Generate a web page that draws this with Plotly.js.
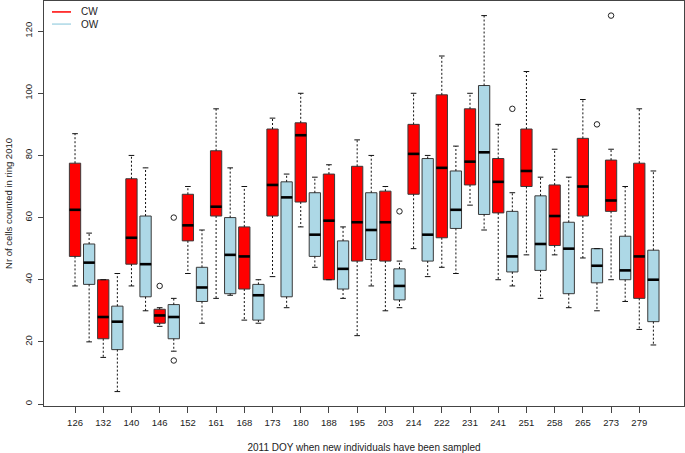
<!DOCTYPE html>
<html>
<head>
<meta charset="utf-8">
<script src="https://cdn.plot.ly/plotly-3.0.1.min.js"></script>
<style>
html,body{margin:0;padding:0;background:#fff;}
#chart{width:685px;height:453px;}
</style>
</head>
<body>
<div id="chart"></div>
<script>
// Sampling days (DOY 2011)
const days = ['126','132','140','146','152','161','168','173','180','188','195','203','214','222','231','241','251','258','265','273','279'];

// CW (red) box statistics
const cwLow  = [38, 15, 38, 25, 42, 34, 27, 41, 57, 40, 22, 30, 50, 44, 64, 40, 48, 48, 47, 40, 24];
const cwQ1   = [47.5, 21, 45, 26, 52.5, 60.5, 37, 60.5, 65, 40, 46, 46, 67.5, 53.5, 70.5, 61.5, 70, 51, 60.5, 62, 34];
const cwMed  = [62.5, 28, 53.5, 28.5, 57.5, 63.5, 47.5, 70.5, 86.5, 59, 58.5, 58.5, 80.5, 76, 78, 71.5, 75, 60.5, 70, 65.5, 47.5];
const cwQ3   = [77.5, 40, 72.5, 30.5, 67.5, 81.5, 57, 88.5, 90.5, 74, 76.5, 68.5, 90, 99.5, 95, 79, 88.5, 70.5, 85.5, 78.5, 77.5];
const cwHigh = [87, 40, 80, 31, 70, 95, 70, 92, 100, 77, 85, 70, 100, 112, 100, 90, 107, 82, 98, 82, 95];
const cwOutDay = ['146', '273'];
const cwOutVal = [38, 125];

// OW (light blue) box statistics
const owLow  = [20, 4, 30, 17, 26, 35, 26, 31, 44, 34, 38, 31, 41, 42, 56, 38, 34, 31, 30, 33, 19];
const owQ1   = [38.5, 17.5, 34.5, 21, 33, 35.5, 27, 34.5, 47.5, 37, 46.5, 33.5, 46, 56.5, 61, 42.5, 43, 35.5, 39, 40, 26.5];
const owMed  = [45.5, 26.5, 45, 28, 37.5, 48, 35, 66.5, 54.5, 43.5, 56, 38, 54.5, 62.5, 81, 47.5, 51.5, 50, 44.5, 43, 40];
const owQ3   = [51.5, 31.5, 60.5, 32, 44, 60, 38.5, 71.5, 68, 52.5, 68, 43.5, 79, 75, 102.5, 62, 67, 58.5, 50, 54, 49.5];
const owHigh = [55, 42, 76, 34, 56, 76, 40, 74, 73, 57, 80, 46, 80, 83, 125, 68, 73, 73, 50, 70, 75];
const owOutDay = ['146', '146', '203', '241', '265'];
const owOutVal = [60, 14, 62, 95, 90];

const yTicks = [0, 20, 40, 60, 80, 100, 120];

// layout helpers
const BOXW = 0.8, HALF = BOXW / 2, STAPLE = 0.2;
const cwPos = days.map((d, i) => 2 * i + 1);
const owPos = days.map((d, i) => 2 * i + 2);
const posOf = (day, grp) => days.indexOf(day) * 2 + (grp === 'cw' ? 1 : 2);

function segs(pos, a, b, dx) {
  const x = [], y = [];
  pos.forEach((p, i) => {
    if (dx) { x.push(p - dx, p + dx, null); y.push(a[i], a[i], null); }
    else { x.push(p, p, null); y.push(a[i], b[i], null); }
  });
  return {x, y};
}

function groupTraces(pos, low, q1, med, q3, high, fill, outDay, outVal, grp) {
  const t = [];
  t.push({
    type: 'box', x: pos, q1: q1, median: med, q3: q3,
    lowerfence: q1, upperfence: q3, width: BOXW, whiskerwidth: 0,
    fillcolor: fill, line: {color: '#3a3a3a', width: 1},
    hoverinfo: 'skip', showlegend: false, boxpoints: false
  });
  const up = segs(pos, q3, high), lo = segs(pos, q1, low);
  t.push({type: 'scatter', mode: 'lines', x: up.x, y: up.y, line: {color: '#111', width: 1, dash: '2px,2px'}, hoverinfo: 'skip', showlegend: false});
  t.push({type: 'scatter', mode: 'lines', x: lo.x, y: lo.y, line: {color: '#111', width: 1, dash: '2px,2px'}, hoverinfo: 'skip', showlegend: false});
  const sh = segs(pos, high, null, STAPLE), sl = segs(pos, low, null, STAPLE);
  t.push({type: 'scatter', mode: 'lines', x: sh.x.concat(sl.x), y: sh.y.concat(sl.y), line: {color: '#111', width: 1}, hoverinfo: 'skip', showlegend: false});
  const md = segs(pos, med, null, HALF);
  t.push({type: 'scatter', mode: 'lines', x: md.x, y: md.y, line: {color: '#000', width: 2.6}, hoverinfo: 'skip', showlegend: false});
  t.push({type: 'scatter', mode: 'markers', x: outDay.map(d => posOf(d, grp)), y: outVal,
    marker: {symbol: 'circle-open', size: 5.5, color: '#222', line: {width: 1}}, hoverinfo: 'skip', showlegend: false});
  return t;
}

const data = [].concat(
  groupTraces(cwPos, cwLow, cwQ1, cwMed, cwQ3, cwHigh, '#ff0000', cwOutDay, cwOutVal, 'cw'),
  groupTraces(owPos, owLow, owQ1, owMed, owQ3, owHigh, '#add8e6', owOutDay, owOutVal, 'ow')
);

const F = 'Liberation Sans, Arial, sans-serif';
const layout = {
  width: 685, height: 453,
  margin: {l: 44, r: 1, t: 1, b: 47},
  paper_bgcolor: '#fff', plot_bgcolor: '#fff',
  showlegend: false, boxmode: 'overlay',
  font: {family: F, size: 9.5, color: '#222'},
  xaxis: {
    range: [-1.2, 44.17], tickvals: cwPos, ticktext: days,
    ticks: 'outside', ticklen: 6, tickcolor: '#444', tickwidth: 1,
    showline: true, mirror: true, linecolor: '#444', linewidth: 1,
    showgrid: false, zeroline: false, ticklabelstandoff: 2,
    tickfont: {family: F, size: 9.5, color: '#222'},
    title: {text: '2011 DOY when new individuals have been sampled', font: {family: F, size: 10, color: '#222'}, standoff: 16}
  },
  yaxis: {
    range: [-0.64, 129.7], tickvals: yTicks, ticktext: yTicks.map(String),
    tickangle: -90,
    ticks: 'outside', ticklen: 5, tickcolor: '#444', tickwidth: 1,
    showline: true, mirror: true, linecolor: '#444', linewidth: 1,
    showgrid: false, zeroline: false, ticklabelstandoff: 2,
    tickfont: {family: F, size: 9.5, color: '#222'},
    title: {text: 'Nr of cells counted in ring 2010', font: {family: F, size: 9.5, color: '#222'}, standoff: 8}
  },
  shapes: [
    {type: 'line', xref: 'paper', yref: 'paper', x0: 0.0125, x1: 0.0422, y0: 0.973, y1: 0.973, line: {color: '#ff0000', width: 1.5}},
    {type: 'line', xref: 'paper', yref: 'paper', x0: 0.0125, x1: 0.0422, y0: 0.943, y1: 0.943, line: {color: '#add8e6', width: 1.5}}
  ],
  annotations: [
    {xref: 'paper', yref: 'paper', x: 0.0547, y: 0.973, xanchor: 'left', yanchor: 'middle', text: 'CW', showarrow: false, font: {family: F, size: 10, color: '#222'}},
    {xref: 'paper', yref: 'paper', x: 0.0547, y: 0.943, xanchor: 'left', yanchor: 'middle', text: 'OW', showarrow: false, font: {family: F, size: 10, color: '#222'}}
  ]
};

Plotly.newPlot('chart', data, layout, {staticPlot: true, displayModeBar: false});
</script>
</body>
</html>
